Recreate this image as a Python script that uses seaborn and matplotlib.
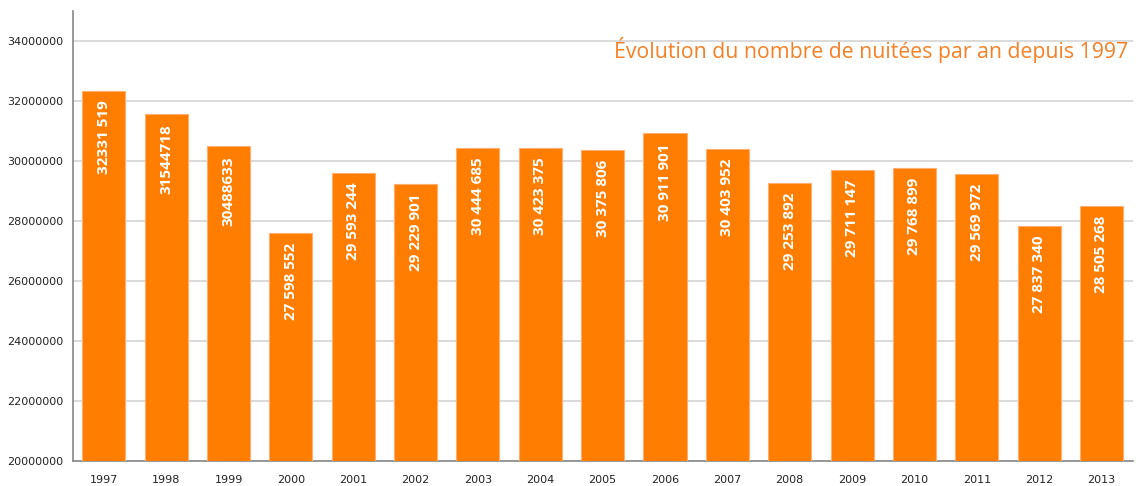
import numpy as np
import matplotlib
matplotlib.use('Agg')
import matplotlib.pyplot as plt
import seaborn as sns

# data
years = ['1997', '1998', '1999', '2000', '2001', '2002', '2003', '2004', '2005',
         '2006', '2007', '2008', '2009', '2010', '2011', '2012', '2013']
nights = [32331519, 31544718, 30488633, 27598552, 29593244, 29229901, 30444685,
          30423375, 30375806, 30911901, 30403952, 29253892, 29711147, 29768899,
          29569972, 27837340, 28505268]
bar_labels = ['32331 519', '31544718', '30488633', '27 598 552', '29 593 244',
              '29 229 901', '30 444 685', '30 423 375', '30 375 806', '30 911 901',
              '30 403 952', '29 253 892', '29 711 147', '29 768 899', '29 569 972',
              '27 837 340', '28 505 268']
y_ticks = [20000000, 22000000, 24000000, 26000000, 28000000, 30000000, 32000000, 34000000]
title = 'Évolution du nombre de nuitées par an depuis 1997'

orange = '#FF7D00'

sns.set_style('white')
plt.rcParams['font.family'] = ['DejaVu Sans']

fig = plt.figure(figsize=(11.36, 4.86), dpi=100)
ax = fig.add_axes([0.064, 0.051, 0.933, 0.927])

sns.barplot(x=years, y=nights, color=orange, saturation=1, width=0.69,
            edgecolor='#FFB070', linewidth=0.8, ax=ax, zorder=3)

ax.set_ylim(20000000, 35000000)
ax.set_xlim(-0.5, len(years) - 0.5)
ax.set_yticks(y_ticks)
ax.set_yticklabels([str(v) for v in y_ticks], fontsize=8, color='#222222')
ax.tick_params(axis='y', length=4, color='#888888', pad=3)
ax.yaxis.grid(True, color='#D4D4D4', linewidth=1.2, zorder=0)
ax.set_axisbelow(True)

# year labels centered, tick marks between bars
ax.set_xticks(range(len(years)))
ax.set_xticklabels(years, fontsize=8, color='#222222')
ax.tick_params(axis='x', which='major', length=0, pad=10)
ax.set_xticks(np.arange(-0.5, len(years), 1), minor=True)
ax.tick_params(axis='x', which='minor', length=4, color='#888888')

for side in ['top', 'right']:
    ax.spines[side].set_visible(False)
for side in ['left', 'bottom']:
    ax.spines[side].set_color('#888888')
    ax.spines[side].set_linewidth(1.2)

# value labels inside bars
for i, (v, lab) in enumerate(zip(nights, bar_labels)):
    ax.annotate(lab, xy=(i, v), xytext=(0, -7), textcoords='offset points',
                rotation=90, ha='center', va='top', color='white',
                fontsize=11, fontweight='bold', family=['Open Sans', 'DejaVu Sans'],
                zorder=4)

ax.text(0.996, 0.912, title, transform=ax.transAxes, ha='right', va='center',
        color='#F58025', fontsize=15.3, family=['Open Sans', 'DejaVu Sans'])

ax.set_xlabel('')
ax.set_ylabel('')

fig.savefig('out.png', dpi=100)
